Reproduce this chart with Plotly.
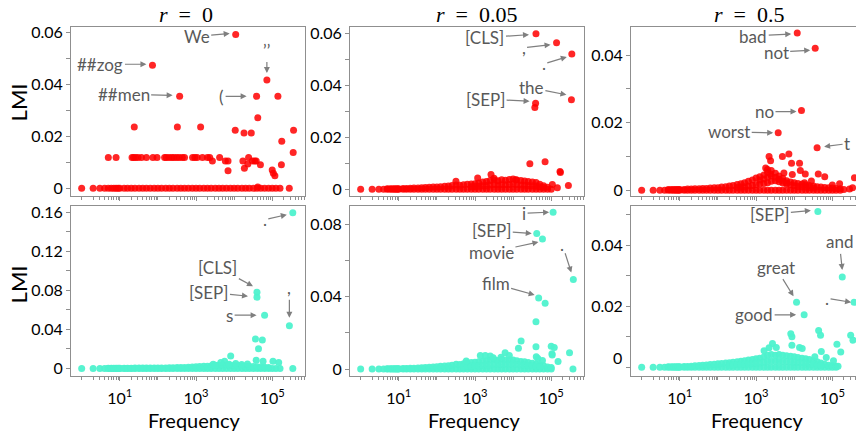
import math
import plotly.graph_objects as go

N = None

# ---------------- data ----------------
# shared frequency grid for the dense band of tokens along the bottom
freq_grid = [1, 2, 3, 4, 5, 6, 7, 8, 9, 10, 13, 16, 20, 25, 32, 40, 50, 63, 80, 100,
             125, 160, 200, 250, 320, 400, 500, 630, 800, 1000, 1250, 1600, 2000, 2500,
             3200, 4000, 5000, 6300, 8000, 10000, 12500, 16000, 20000, 25000, 32000,
             40000, 50000, 63000, 80000, 100000, 125000, 160000]

# ---- r = 0 (red, top-left)
p1_base = [0, 0, 0, 0, 0, 0, 0, 0, 0, 0, 0, 0, 0, 0, 0, 0, 0, 0, 0, 0, 0, 0, 0, 0, 0, 0,
           0, 0, 0, 0, 0, 0, 0, 0, 0, 0, 0, 0, 0, 0, 0, 0, 0, 0, 0, 0, 0, 0, 0, 0, 0, 0]
p1_out_freq = [5, 8, 21, 23, 26, 30, 37, 50, 74, 95, 150, 166, 195, 230, 263, 310, 363, 437,
               500, 813, 933, 1070, 1480, 1995, 2290, 2690, 4170, 5890, 6920, 6920, 17000,
               18600, 22900, 24000, 30200, 34700, 38000, 49000, 100000, 107000, 117500,
               174000, 24, 324, 1320, 10700, 363000, 18200, 28200, 41700, 178000, 355000,
               141000, 41700, 280000]
p1_out_lmi = [0.0119, 0.0119, 0.0119, 0.0119, 0.0119, 0.0119, 0.0119, 0.0119, 0.0119, 0.0119,
              0.0119, 0.0119, 0.0119, 0.0119, 0.0119, 0.0119, 0.0119, 0.0119, 0.0119, 0.0119,
              0.0119, 0.0119, 0.0119, 0.0119, 0.0119, 0.0106, 0.0119, 0.0106, 0.0106, 0.0068,
              0.0106, 0.0078, 0.0094, 0.0119, 0.0106, 0.0106, 0.0106, 0.0091, 0.0071, 0.0058,
              0.0049, 0.0091, 0.0237, 0.0237, 0.0237, 0.0224, 0.0224, 0.0214, 0.0214, 0.0272,
              0.0182, 0.0138, 0.0355, 0.0005, 0.0]
p1_lab_tok = ["We", "##zog", "\u2019\u2019", "##men", "("]
p1_lab_freq = [11000, 72, 72400, 372, 38900]
p1_lab_lmi = [0.0594, 0.0475, 0.0418, 0.0355, 0.0355]

# ---- r = 0.05 (red, top-middle)
p2_base = [0, 0, 0, 0, 0, 0, 0, 0, 0, 0, 0, 0, 0, 0, 0, 0, 0, 0, 0, 0, 0, 0, 0, 0, 0, 0,
           0, 0, 0, 0, 0, 0, 0, 0, 0, 0, 0, 0, 0, 0, 0, 0, 0, 0, 0, 0, 0, 0, 0, 0, N, N]
p2_top = [N, N, N, N, 0.0002, 0.0002, 0.0002, 0.0002, 0.0002, 0.0002,
          0.0003, 0.0003, 0.0004, 0.0005, 0.0005, 0.0006, 0.0007, 0.0008, 0.0009,
          0.0009, 0.0010, 0.0012, 0.0013, 0.0015, 0.0017, 0.0016, 0.0018, 0.0020, 0.0021,
          0.0022, 0.0025, 0.0028, 0.0030, 0.0034, 0.0036, 0.0033, 0.0037, 0.0035, 0.0038,
          0.0040, 0.0036, 0.0034, 0.0032, 0.0030, 0.0028, 0.0026, 0.0020, 0.0014, 0.0008,
          N, N, N]
p2_mid = [N, N, N, N, N, N, N, N, N, N, N, N, N, N, N, N, N, N, N, N, N, N, N, N, N, N, N, N,
          0.0010, 0.0011, 0.0012, 0.0014, 0.0015, 0.0017, 0.0018, 0.0017, 0.0018, 0.0018,
          0.0019, 0.0020, 0.0018, 0.0017, 0.0016, 0.0015, 0.0014, 0.0013, 0.0010, 0.0007,
          N, N, N, N]
p2_out_freq = [316, 1175, 2630, 3160, 11750, 27500, 69000, 170000, 174000, 282000, 107000,
               145000, 37150]
p2_out_lmi = [0.0031, 0.0044, 0.0057, 0.0043, 0.0037, 0.0099, 0.0106, 0.0069, 0.0065, 0.0015,
              0.0019, 0.0006, 0.0315]
p2_lab_tok = ["[CLS]", ",", ".", "the", "[SEP]"]
p2_lab_freq = [39800, 138000, 347000, 339000, 38900]
p2_lab_lmi = [0.0600, 0.0565, 0.0522, 0.0345, 0.0332]

# ---- r = 0.5 (red, top-right)
p3_base = [0, 0, 0, 0, 0, 0, 0, 0, 0, 0, 0, 0, 0, 0, 0, 0, 0, 0, 0, 0, 0, 0, 0, 0, 0, 0,
           0, 0, 0, 0, 0, 0, 0, 0, 0, 0, 0, 0, 0, 0, 0, 0, 0, 0, 0, 0, 0, 0, 0, 0, 0, 0]
p3_top = [N, N, N, N, 0.0002, 0.0002, 0.0002, 0.0002, 0.0002, 0.0002,
          0.0002, 0.0003, 0.0003, 0.0004, 0.0004, 0.0005, 0.0005, 0.0006, 0.0007,
          0.0007, 0.0009, 0.0010, 0.0012, 0.0014, 0.0017, 0.0019, 0.0022, 0.0026, 0.0030,
          0.0036, 0.0040, 0.0045, 0.0052, 0.0058, 0.0050, 0.0042, 0.0035, 0.0028, 0.0024,
          0.0022, 0.0020, 0.0018, 0.0016, 0.0014, 0.0012, 0.0010, 0.0009, 0.0008, 0.0007,
          0.0006, 0.0005, 0.0004]
p3_mid = [N, N, N, N, N, N, N, N, N, N, N, N, N, N, N, N, N, N, N, N, N, N, N, N,
          0.0008, 0.0009, 0.0010, 0.0012, 0.0014, 0.0016, 0.0018, 0.0020, 0.0022, 0.0026,
          0.0028, 0.0025, 0.0021, 0.0018, 0.0015, 0.0013, 0.0011, 0.0010, 0.0009, 0.0008,
          0.0006, N, N, N, N, N, N, N]
p3_upper = [N, N, N, N, N, N, N, N, N, N, N, N, N, N, N, N, N, N, N, N, N, N, N, N, N, N,
            N, N, N, N, 0.0030, 0.0033, 0.0038, 0.0042, 0.0038, 0.0032, 0.0027, 0.0022,
            N, N, N, N, N, N, N, N, N, N, N, N, N, N]
p3_out_freq = [2190, 2400, 4900, 7240, 8510, 13800, 1780, 1995, 2400, 5370, 8910, 14450,
               19500, 42660, 63100, 18600, 155000, 100000, 380000, 28200, 200000, 282000,
               339000]
p3_out_lmi = [0.0100, 0.0087, 0.0100, 0.0107, 0.0080, 0.0080, 0.0066, 0.0061, 0.0048, 0.0051,
              0.0046, 0.0058, 0.0048, 0.0048, 0.0040, 0.0022, 0.0019, 0.0015, 0.0037, 0.0027,
              0.0002, 0.0003, 0.0007]
p3_lab_tok = ["bad", "not", "no", "worst", "t"]
p3_lab_freq = [12000, 35500, 15500, 3800, 39800]
p3_lab_lmi = [0.0466, 0.0421, 0.0236, 0.0170, 0.0126]

# ---- r = 0 (teal, bottom-left)
p4_base = [0, 0, 0, 0, 0, 0, 0, 0, 0, 0, 0, 0, 0, 0, 0, 0, 0, 0, 0, 0, 0, 0, 0, 0, 0, 0,
           0, 0, 0, 0, 0, 0, 0, 0, 0, 0, 0, 0, 0, 0, 0, 0, 0, 0, 0, 0, 0, 0, 0, 0, 0, 0]
p4_top = [N, N, N, N, 0.0002, 0.0002, 0.0002, 0.0002, 0.0002, 0.0002,
          0.0003, 0.0003, 0.0003, 0.0004, 0.0004, 0.0004, 0.0005, 0.0005, 0.0005,
          0.0005, 0.0006, 0.0006, 0.0007, 0.0008, 0.0009, 0.0010, 0.0011, 0.0013, 0.0015,
          0.0018, 0.0020, 0.0022, 0.0024, 0.0026, 0.0030, 0.0034, 0.0038, 0.0036, 0.0032,
          0.0030, 0.0028, 0.0026, 0.0024, 0.0022, 0.0020, 0.0018, 0.0016, 0.0014, 0.0010,
          N, N, N]
p4_out_freq = [8130, 5620, 2820, 4470, 3240, 36300, 55000, 43650, 38000, 57500, 104700,
               147900, 346700, 15800, 22400, 11000, 7400]
p4_out_lmi = [0.0128, 0.0074, 0.0044, 0.0061, 0.0034, 0.0303, 0.0293, 0.0202, 0.0084, 0.0074,
              0.0074, 0.0061, 0.0, 0.0040, 0.0045, 0.0050, 0.0044]
p4_lab_tok = [".", "[CLS]", "[SEP]", "s", ","]
p4_lab_freq = [346700, 39800, 39800, 63100, 282000]
p4_lab_lmi = [0.1597, 0.0781, 0.0731, 0.0546, 0.0438]

# ---- r = 0.05 (teal, bottom-middle)
p5_base = [0, 0, 0, 0, 0, 0, 0, 0, 0, 0, 0, 0, 0, 0, 0, 0, 0, 0, 0, 0, 0, 0, 0, 0, 0, 0,
           0, 0, 0, 0, 0, 0, 0, 0, 0, 0, 0, 0, 0, 0, 0, 0, 0, 0, 0, 0, 0, 0, 0, 0, N, N]
p5_top = [N, N, N, N, 0.0002, 0.0002, 0.0002, 0.0002, 0.0002, 0.0002,
          0.0003, 0.0003, 0.0004, 0.0005, 0.0006, 0.0007, 0.0008, 0.0010, 0.0011,
          0.0013, 0.0015, 0.0017, 0.0019, 0.0021, 0.0027, 0.0025, 0.0030, 0.0033, 0.0036,
          0.0038, 0.0040, 0.0043, 0.0046, 0.0050, 0.0052, 0.0048, 0.0055, 0.0050, 0.0052,
          0.0050, 0.0046, 0.0042, 0.0040, 0.0036, 0.0032, 0.0028, 0.0024, 0.0018, 0.0012,
          0.0008, N, N]
p5_mid = [N, N, N, N, N, N, N, N, N, N, N, N, N, N, N, N, N, N, N, N, N, N, N, N, N, N,
          0.0012, 0.0014, 0.0016, 0.0018, 0.0019, 0.0020, 0.0022, 0.0023, 0.0025, 0.0026,
          0.0025, 0.0027, 0.0026, 0.0026, 0.0025, 0.0023, 0.0021, 0.0020, 0.0018, 0.0016,
          0.0014, N, N, N, N, N]
p5_out_freq = [39800, 16200, 13800, 39800, 100000, 120000, 302000, 6170, 7940, 2510, 1860,
               1380, 104700, 106000, 40500, 44700, 151000, 58900, 589, 372000, 69200, 4800,
               3000]
p5_out_lmi = [0.0262, 0.0155, 0.0115, 0.0124, 0.0127, 0.0120, 0.0091, 0.0091, 0.0075, 0.0072,
              0.0075, 0.0075, 0.0085, 0.0078, 0.0068, 0.0058, 0.0042, 0.0047, 0.0045, 0.0,
              0.0365, 0.0065, 0.0062]
p5_lab_tok = ["i", "[SEP]", "movie", ".", "film"]
p5_lab_freq = [112000, 41700, 58900, 380000, 46800]
p5_lab_lmi = [0.0869, 0.0751, 0.0720, 0.0496, 0.0394]

# ---- r = 0.5 (teal, bottom-right)
p6_base = [0, 0, 0, 0, 0, 0, 0, 0, 0, 0, 0, 0, 0, 0, 0, 0, 0, 0, 0, 0, 0, 0, 0, 0, 0, 0,
           0, 0, 0, 0, 0, 0, 0, 0, 0, 0, 0, 0, 0, 0, 0, 0, 0, 0, 0, 0, 0, 0, 0, 0, 0, N]
p6_top = [N, N, N, N, 0.0002, 0.0002, 0.0002, 0.0002, 0.0002, 0.0002,
          0.0003, 0.0003, 0.0004, 0.0005, 0.0006, 0.0007, 0.0008, 0.0009, 0.0010,
          0.0012, 0.0013, 0.0014, 0.0015, 0.0017, 0.0018, 0.0020, 0.0022, 0.0024, 0.0026,
          0.0028, 0.0030, 0.0034, 0.0040, 0.0042, 0.0040, 0.0042, 0.0040, 0.0038, 0.0036,
          0.0035, 0.0032, 0.0030, 0.0028, 0.0026, 0.0022, 0.0018, 0.0014, 0.0010, 0.0007,
          0.0005, 0.0004, N]
p6_mid = [N, N, N, N, N, N, N, N, N, N, N, N, N, N, N, N, N, N, N, N, N, N,
          0.0007, 0.0008, 0.0009, 0.0010, 0.0011, 0.0012, 0.0013, 0.0014, 0.0015, 0.0017,
          0.0020, 0.0021, 0.0020, 0.0021, 0.0020, 0.0019, 0.0018, 0.0017, 0.0016, 0.0015,
          0.0014, 0.0012, 0.0010, 0.0008, 0.0007, N, N, N, N, N]
p6_out_freq = [8130, 8710, 43650, 49000, 302000, 346700, 2690, 2190, 1620, 3390, 8700,
               13800, 16200, 131800, 51300, 166000, 34700, 69200, 107000, 141000]
p6_out_lmi = [0.0110, 0.0100, 0.0121, 0.0105, 0.0105, 0.0089, 0.0078, 0.0064, 0.0054, 0.0065,
              0.0072, 0.0065, 0.0062, 0.0076, 0.0052, 0.0050, 0.0035, 0.0032, 0.0022, 0.0004]
p6_lab_tok = ["[SEP]", "and", "great", ".", "good"]
p6_lab_freq = [41700, 182000, 11500, 371500, 18200]
p6_lab_lmi = [0.0510, 0.0296, 0.0213, 0.0213, 0.0172]

titles = ["<i>r</i>\u00a0\u00a0=\u00a0\u00a00", "<i>r</i>\u00a0\u00a0=\u00a0\u00a00.05",
          "<i>r</i>\u00a0\u00a0=\u00a0\u00a00.5"]

# ---------------- styling ----------------
W, H = 856, 435
RED = "rgba(255,0,0,0.85)"
TEAL = "rgba(78,242,205,0.95)"
FRAME = "#8f8f8f"
FONT = "Lato"
LABEL_GREY = "#595959"
ARROW_GREY = "#7f7f7f"

col_px = [(71, 305), (350, 584), (631, 856)]
row_px = [(23, 195), (205, 378)]
xr_full = [-0.28, 5.86]
xr_cut = [-0.28, 5.62]

# per label: text-centre offset and arrow-head offset (pixels from the point, y down)
p1_off = [((-39, 2), (-6, -1)), ((-52, -1), (-6, -1)), ((0, -30), (0, -7)),
          ((-56, -2), (-7, -1)), ((-35, 0), (-10, 0))]
p2_off = [((-51, 4), (-7, 1)), ((-33, 5), (-6, 2)), ((-28, 10), (-5, 3)),
          ((-40, -12), (-5, -5)), ((-50, -4), (-6, -2))]
p3_off = [((-44, 3), (-6, 1)), ((-39, 4), (-5, 2)), ((-37, 1), (-5, 1)),
          ((-49, -1), (-5, 0)), ((30, -4), (7, -1))]
p4_off = [((-28, 7), (-6, 2)), ((-39, -25), (-4, -6)), ((-48, -5), (-9, -1)),
          ((-35, 0), (-8, 0)), ((0, -38), (0, -8))]
p5_off = [((-29, 1), (-4, 0)), ((-45, -3), (-5, 0)), ((-51, 13), (-4, 3)),
          ((-11, -35), (-2, -7)), ((-43, -14), (-4, -3))]
p6_off = [((-48, 3), (-7, -1)), ((-3, -35), (0, -7)), ((-21, -35), (-3, -6)),
          ((-27, -4), (-3, 0)), ((-50, 0), (-8, 0))]

panels = [
    dict(row=0, col=0, color=RED, bands=[p1_base], out=(p1_out_freq, p1_out_lmi),
         lab=(p1_lab_tok, p1_lab_freq, p1_lab_lmi), off=p1_off,
         yr=[-0.0029, 0.0624], yt=[0, 0.02, 0.04, 0.06], ytt=["0", "0.02", "0.04", "0.06"], md=0.01),
    dict(row=0, col=1, color=RED, bands=[p2_base, p2_top, p2_mid], out=(p2_out_freq, p2_out_lmi),
         lab=(p2_lab_tok, p2_lab_freq, p2_lab_lmi), off=p2_off,
         yr=[-0.0025, 0.0627], yt=[0, 0.02, 0.04, 0.06], ytt=["0", "0.02", "0.04", "0.06"], md=0.01),
    dict(row=0, col=2, color=RED, bands=[p3_base, p3_top, p3_mid, p3_upper],
         out=(p3_out_freq, p3_out_lmi), lab=(p3_lab_tok, p3_lab_freq, p3_lab_lmi), off=p3_off,
         yr=[-0.0017, 0.0485], yt=[0, 0.02, 0.04], ytt=["0", "0.02", "0.04"], md=0.01),
    dict(row=1, col=0, color=TEAL, bands=[p4_base, p4_top], out=(p4_out_freq, p4_out_lmi),
         lab=(p4_lab_tok, p4_lab_freq, p4_lab_lmi), off=p4_off,
         yr=[-0.0076, 0.1668], yt=[0, 0.04, 0.08, 0.12, 0.16],
         ytt=["0", "0.04", "0.08", "0.12", "0.16"], md=0.02),
    dict(row=1, col=1, color=TEAL, bands=[p5_base, p5_top, p5_mid], out=(p5_out_freq, p5_out_lmi),
         lab=(p5_lab_tok, p5_lab_freq, p5_lab_lmi), off=p5_off,
         yr=[-0.0038, 0.0905], yt=[0, 0.04, 0.08], ytt=["0", "0.04", "0.08"], md=0.02),
    dict(row=1, col=2, color=TEAL, bands=[p6_base, p6_top, p6_mid], out=(p6_out_freq, p6_out_lmi),
         lab=(p6_lab_tok, p6_lab_freq, p6_lab_lmi), off=p6_off,
         yr=[-0.0028, 0.0529], yt=[0.02, 0.04], ytt=["0.02", "0.04"], md=0.01),
]

major_x = [10, 1000, 100000]
major_x_text = ["10<sup>1</sup>", "10<sup>3</sup>", "10<sup>5</sup>"]
minor_x = [1, 100, 10000] + [m * 10 ** e for e in range(0, 6) for m in range(2, 10)]

fig = go.Figure()
layout = dict(width=W, height=H, margin=dict(l=0, r=0, t=0, b=0),
              paper_bgcolor="white", plot_bgcolor="white", showlegend=False)
annotations = []

for i, p in enumerate(panels, start=1):
    sfx = "" if i == 1 else str(i)
    xs, ys = [], []
    for band in p["bands"]:
        for f, v in zip(freq_grid, band):
            if v is not None:
                xs.append(f)
                ys.append(v)
    for f, v in zip(*p["out"]):
        xs.append(f)
        ys.append(v)
    toks, lf, ll = p["lab"]
    xs += lf
    ys += ll
    fig.add_trace(go.Scatter(x=xs, y=ys, mode="markers", xaxis="x" + sfx, yaxis="y" + sfx,
                             marker=dict(size=7, color=p["color"], line=dict(width=0)),
                             hoverinfo="skip"))

    c0, c1 = col_px[p["col"]]
    r0, r1 = row_px[p["row"]]
    bottom = p["row"] == 1
    layout["xaxis" + sfx] = dict(
        type="log", domain=[c0 / W, c1 / W], range=xr_cut if p["col"] == 2 else xr_full,
        anchor="y" + sfx, showline=True, linecolor=FRAME, linewidth=1, mirror=True,
        showgrid=False, zeroline=False, tickmode="array", tickvals=major_x,
        ticktext=major_x_text, showticklabels=bottom, ticks="outside", ticklen=4,
        tickcolor=FRAME, tickfont=dict(family=FONT, size=16, color="black"),
        ticklabelstandoff=4,
        minor=dict(tickmode="array", tickvals=minor_x, ticks="outside", ticklen=3,
                   tickcolor=FRAME, showgrid=False))
    layout["yaxis" + sfx] = dict(
        domain=[1 - r1 / H, 1 - r0 / H], range=p["yr"], anchor="x" + sfx, showline=True,
        linecolor=FRAME, linewidth=1, mirror=p["col"] != 2, showgrid=False, zeroline=False,
        tickmode="array", tickvals=p["yt"], ticktext=p["ytt"], ticks="outside", ticklen=4,
        tickcolor=FRAME, tickfont=dict(family=FONT, size=16, color="black"),
        minor=dict(tickmode="linear", tick0=0, dtick=p["md"], ticks="outside", ticklen=4,
                   tickcolor=FRAME, showgrid=False))

    for tok, f, v, (t_off, head) in zip(toks, lf, ll, p["off"]):
        annotations.append(dict(x=math.log10(f), y=v, xref="x" + sfx, yref="y" + sfx,
                                text=tok, showarrow=True, xshift=head[0], yshift=-head[1],
                                ax=t_off[0] - head[0], ay=t_off[1] - head[1],
                                axref="pixel", ayref="pixel", arrowhead=2, arrowsize=1,
                                arrowwidth=1.2, arrowcolor=ARROW_GREY, standoff=0,
                                startstandoff=1, borderpad=0,
                                font=dict(family=FONT, size=17, color=LABEL_GREY)))

# shifted "0" tick label of the bottom-right panel
annotations.append(dict(x=631 / W, y=0, xref="paper", yref="y6", text="0", showarrow=False,
                        xanchor="right", xshift=-7, yshift=10,
                        font=dict(family=FONT, size=16, color="black")))

# column titles
for t, xc in zip(titles, [186, 476, 749]):
    annotations.append(dict(x=xc / W, y=1 - 11 / H, xref="paper", yref="paper", text=t,
                            showarrow=False, xanchor="center", yanchor="middle",
                            font=dict(family="Liberation Serif", size=22, color="black")))

# axis titles
for yc in [100, 285]:
    annotations.append(dict(x=18 / W, y=1 - yc / H, xref="paper", yref="paper", text="LMI",
                            textangle=-90, showarrow=False, xanchor="center", yanchor="middle",
                            font=dict(family=FONT, size=22, color="black")))
for xc in [194, 474, 757]:
    annotations.append(dict(x=xc / W, y=1 - 423 / H, xref="paper", yref="paper",
                            text="Frequency", showarrow=False, xanchor="center",
                            yanchor="middle", font=dict(family=FONT, size=20, color="black")))

layout["annotations"] = annotations
fig.update_layout(**layout)
fig.write_html("out.html")
